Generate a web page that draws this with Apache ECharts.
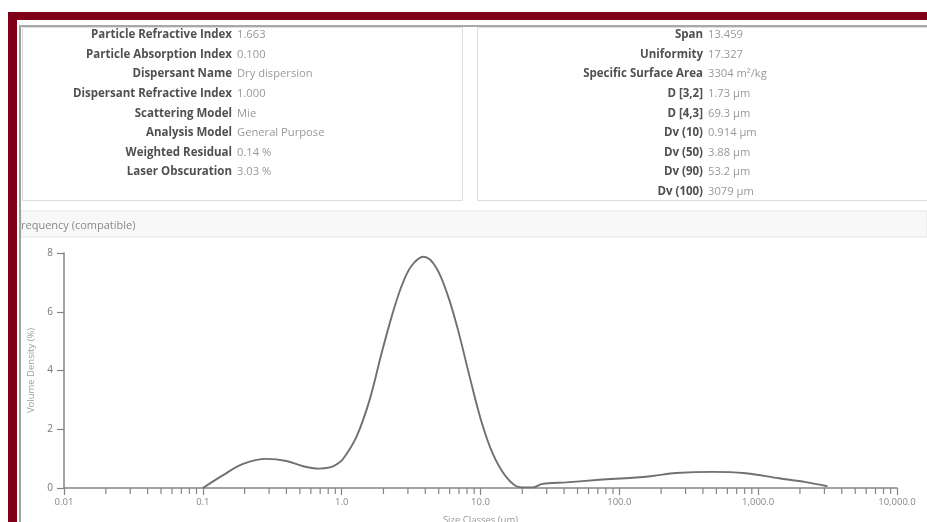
<!DOCTYPE html>
<html><head><meta charset="utf-8">
<script src="https://cdn.jsdelivr.net/npm/echarts@6/dist/echarts.min.js"></script>
<style>html,body{margin:0;padding:0;background:#fff}#c{width:927px;height:522px}</style>
</head><body><div id="c"></div>
<script>
// Size classes (µm) and volume density (%)
const sizes = [0.1, 0.14, 0.195, 0.287, 0.40, 0.527, 0.684, 0.82, 0.916, 1.02, 1.28, 1.59, 1.93, 2.28, 2.69, 3.17, 3.91, 4.80, 5.82, 6.87, 8.34, 10.1, 12.3, 15.3, 19.1, 23.8, 28, 41.3, 71.8, 125, 174, 256, 469, 815, 1416, 2203, 3155];
const density = [0, 0.44, 0.82, 0.99, 0.92, 0.74, 0.66, 0.70, 0.80, 0.98, 1.75, 3.0, 4.55, 5.8, 6.85, 7.55, 7.87, 7.5, 6.55, 5.4, 3.8, 2.3, 1.15, 0.38, 0.03, 0.02, 0.14, 0.19, 0.28, 0.35, 0.41, 0.51, 0.55, 0.5, 0.33, 0.2, 0.06];
const xTickLabels = {"0.01":"0.01","0.1":"0.1","1":"1.0","10":"10.0","100":"100.0","1000":"1,000.0","10000":"10,000.0"};
const minorTickValues = [];
[0.01,0.1,1,10,100,1000].forEach(d=>{for(let m=2;m<=9;m++)minorTickValues.push(+(d*m).toPrecision(3));});
const yTicks = [0,2,4,6,8];

const leftLabels = ["Particle Refractive Index","Particle Absorption Index","Dispersant Name","Dispersant Refractive Index","Scattering Model","Analysis Model","Weighted Residual","Laser Obscuration"];
const leftValues = ["1.663","0.100","Dry dispersion","1.000","Mie","General Purpose","0.14 %","3.03 %"];
const rightLabels = ["Span","Uniformity","Specific Surface Area","D [3,2]","D [4,3]","Dv (10)","Dv (50)","Dv (90)","Dv (100)"];
const rightValues = ["13.459","17.327","3304 m²/kg","1.73 µm","69.3 µm","0.914 µm","3.88 µm","53.2 µm","3079 µm"];

const FONT = "Open Sans";
const graphics = [];
// panels
graphics.push({type:'rect',shape:{x:22.5,y:27.5,width:440,height:173},style:{fill:'#fff',stroke:'#dedede',lineWidth:1}});
graphics.push({type:'rect',shape:{x:477.5,y:27.5,width:460,height:173},style:{fill:'#fff',stroke:'#dedede',lineWidth:1}});
// title band
graphics.push({type:'rect',shape:{x:21,y:211,width:906,height:26},style:{fill:'#f8f8f8',stroke:'#e6e6e6',lineWidth:1}});
graphics.push({type:'text',x:21,y:226,style:{text:'requency (compatible)',fill:'#888',font:'11px "'+FONT+'"',textVerticalAlign:'middle'}});
leftLabels.forEach((t,i)=>{
  const y = 35 + i*19.6;
  graphics.push({type:'text',x:232,y:y,style:{text:t,fill:'#505050',font:'bold 11.5px "'+FONT+'"',textAlign:'right',textVerticalAlign:'middle'}});
  graphics.push({type:'text',x:237,y:y,style:{text:leftValues[i],fill:'#999',font:'11.2px "'+FONT+'"',textAlign:'left',textVerticalAlign:'middle'}});
});
rightLabels.forEach((t,i)=>{
  const y = 35 + i*19.6;
  graphics.push({type:'text',x:703,y:y,style:{text:t,fill:'#505050',font:'bold 11.5px "'+FONT+'"',textAlign:'right',textVerticalAlign:'middle'}});
  graphics.push({type:'text',x:708,y:y,style:{text:rightValues[i],fill:'#999',font:'11.2px "'+FONT+'"',textAlign:'left',textVerticalAlign:'middle'}});
});
// frame lines
graphics.push({type:'rect',z:100,shape:{x:19,y:26,width:2,height:496},style:{fill:'#a0a0a0'}});
graphics.push({type:'rect',z:100,shape:{x:19,y:25,width:908,height:2},style:{fill:'#a8a8a8'}});
graphics.push({type:'rect',z:101,shape:{x:8,y:12,width:919,height:8},style:{fill:'#7f0016'}});
graphics.push({type:'rect',z:101,shape:{x:8,y:12,width:9,height:510},style:{fill:'#7f0016'}});

const chart = echarts.init(document.getElementById('c'), null, {renderer:'canvas'});
chart.setOption({
  animation:false,
  backgroundColor:'#fff',
  grid:{left:64,right:30,top:253,bottom:34,containLabel:false,outerBoundsMode:'none'},
  xAxis:{type:'log',logBase:10,min:0.01,max:10000,
    name:'Size Classes (µm)',nameLocation:'middle',nameGap:27,
    nameTextStyle:{color:'#999',fontSize:9.5,fontFamily:FONT},
    axisLine:{lineStyle:{color:'#858585',width:1.5}},
    axisTick:{show:true,length:7,inside:false,lineStyle:{color:'#858585',width:1.2}},
    minorTick:{show:false},
    splitLine:{show:false},
    axisLabel:{color:'#888',fontSize:9.5,fontFamily:FONT,margin:9,formatter:v=>xTickLabels[String(+v.toPrecision(3))]||''}
  },
  yAxis:{type:'value',min:0,max:8,interval:2,
    name:'Volume Density (%)',nameLocation:'middle',nameGap:8,nameRotate:90,
    nameTextStyle:{color:'#a0a0a0',fontSize:9.5,fontFamily:FONT},
    axisLine:{show:true,lineStyle:{color:'#858585',width:1.5}},
    axisTick:{show:true,length:7,lineStyle:{color:'#858585',width:1.2}},
    splitLine:{show:false},
    axisLabel:{color:'#777',fontSize:10,fontFamily:FONT,margin:11,formatter:v=>yTicks.includes(v)?String(v):''}
  },
  series:[
    {type:'custom',silent:true,data:minorTickValues.map(v=>[v,0]),
      renderItem:(params,api)=>{
        const p = api.coord([api.value(0),0]);
        return {type:'line',shape:{x1:p[0],y1:p[1],x2:p[0],y2:p[1]+6},style:{stroke:'#858585',lineWidth:1.2}};
      }, clip:false, z:1},
    {type:'line',data:sizes.map((s,i)=>[s,density[i]]),smooth:0.35,showSymbol:false,
      lineStyle:{color:'#707070',width:1.9},z:3}
  ],
  graphic:graphics
});
</script></body></html>
